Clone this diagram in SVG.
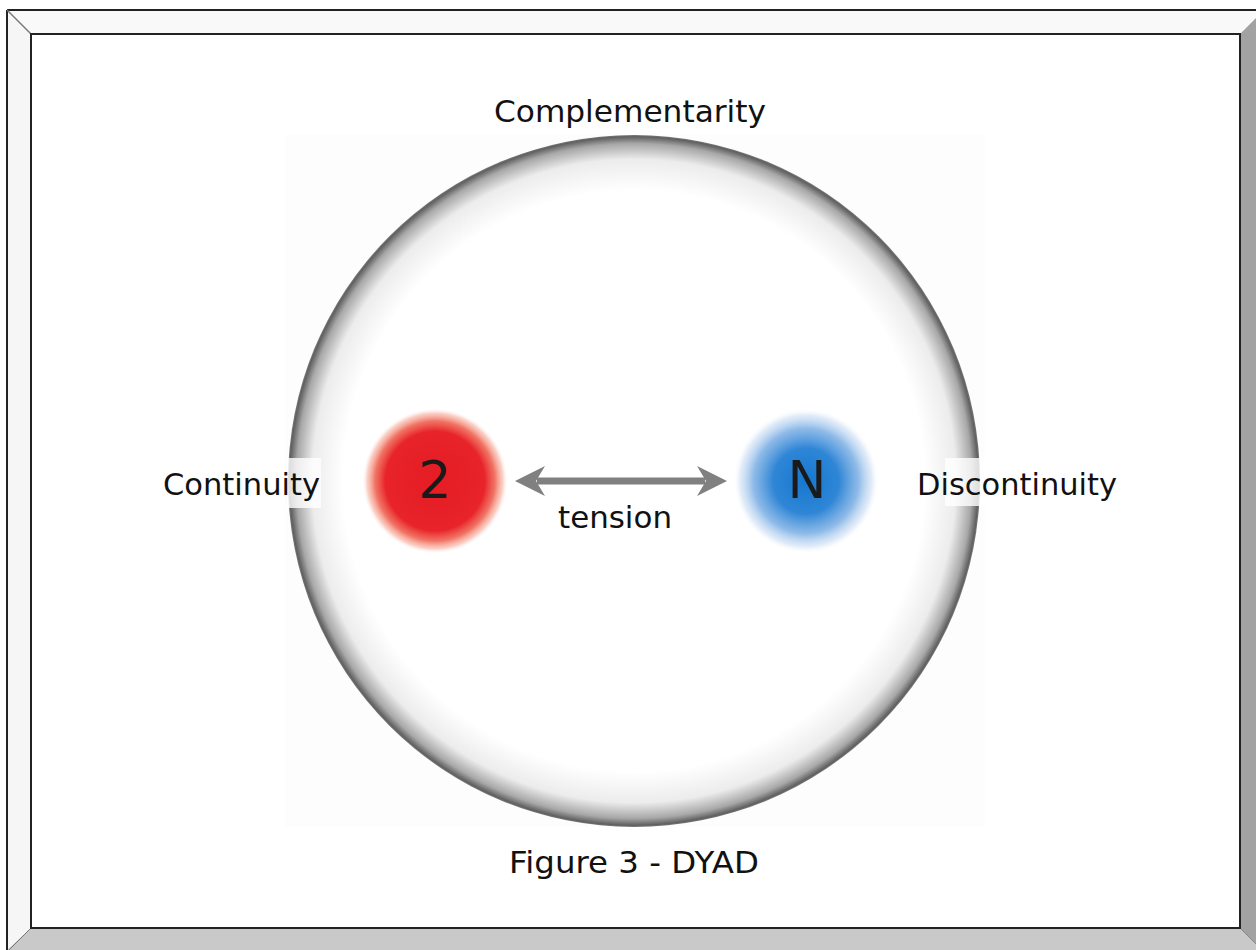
<svg xmlns="http://www.w3.org/2000/svg" width="1256" height="950" viewBox="0 0 1256 950">
<style>
.lbl{font-family:"DejaVu Sans","Liberation Sans",sans-serif;fill:#111;}
.big{font-family:"DejaVu Sans","Liberation Sans",sans-serif;fill:#1a1a1a;font-size:52px;text-anchor:middle;}
</style>
<defs>
<radialGradient id="sphere" cx="634" cy="481" r="346" gradientUnits="userSpaceOnUse">
<stop offset="0" stop-color="#ffffff"/>
<stop offset="0.84" stop-color="#ffffff"/>
<stop offset="0.93" stop-color="#ececec"/>
<stop offset="0.975" stop-color="#a8a8a8"/>
<stop offset="0.995" stop-color="#606060"/>
<stop offset="1" stop-color="#7a7a7a"/>
</radialGradient>
<radialGradient id="red">
<stop offset="0" stop-color="#e51c24"/>
<stop offset="0.68" stop-color="#e8232a"/>
<stop offset="0.82" stop-color="#ee5a48" stop-opacity="0.85"/>
<stop offset="0.93" stop-color="#f6a28e" stop-opacity="0.5"/>
<stop offset="1" stop-color="#ffffff" stop-opacity="0"/>
</radialGradient>
<radialGradient id="blue">
<stop offset="0" stop-color="#1677cf"/>
<stop offset="0.45" stop-color="#2f86d6"/>
<stop offset="0.72" stop-color="#7aaee4" stop-opacity="0.85"/>
<stop offset="0.9" stop-color="#c2d8f2" stop-opacity="0.5"/>
<stop offset="1" stop-color="#ffffff" stop-opacity="0"/>
</radialGradient>
<marker id="ah" viewBox="0 0 30 32" refX="8" refY="16" markerWidth="30" markerHeight="32" markerUnits="userSpaceOnUse" orient="auto-start-reverse">
<path d="M0,1 L30,16 L0,31 L9,16 Z" fill="#808080"/>
</marker>
</defs>

<g id="frame">
<rect x="0" y="0" width="1256" height="950" fill="#ffffff"/>
<polygon points="7,10 1256,10 1256,18 1240,34 31,34" fill="#f9f9f9"/>
<polygon points="7,10 31,34 31,928 7,950" fill="#f6f6f6"/>
<polygon points="1240,34 1256,18 1256,950 1240,928" fill="#a2a2a2"/>
<polygon points="31,928 1240,928 1256,944 1256,950 7,950" fill="#c9c9c9"/>
<line x1="7" y1="10" x2="1256" y2="10" stroke="#222" stroke-width="2"/>
<line x1="7" y1="10" x2="7" y2="950" stroke="#222" stroke-width="2"/>
<line x1="7" y1="10" x2="31" y2="34" stroke="#777" stroke-width="1.5"/>
<line x1="1240" y1="928" x2="1256" y2="944" stroke="#888" stroke-width="1"/>
<line x1="31" y1="928" x2="9" y2="950" stroke="#777" stroke-width="1"/>
<rect x="31" y="34" width="1209" height="894" fill="#ffffff" stroke="#222" stroke-width="2"/>
</g>

<g id="backdrop">
<rect x="285" y="135" width="700" height="692" fill="#fdfdfd"/>
</g>

<g id="sphere-node">
<circle cx="634" cy="481" r="346" fill="url(#sphere)"/>
<rect x="287" y="458" width="34" height="50" fill="#ffffff" opacity="0.8"/>
<rect x="945" y="458" width="40" height="48" fill="#ffffff" opacity="0.8"/>
</g>

<g id="connectors">
<line x1="537" y1="481" x2="705" y2="481" stroke="#808080" stroke-width="7" marker-start="url(#ah)" marker-end="url(#ah)"/>
</g>

<g id="node-2">
<circle cx="435" cy="481" r="73" fill="url(#red)"/>
<text class="big" x="435" y="498">2</text>
</g>

<g id="node-N">
<circle cx="806" cy="481" r="73" fill="url(#blue)"/>
<text class="big" x="807" y="498">N</text>
</g>

<g id="labels">
<text class="lbl" x="630" y="122" font-size="30" text-anchor="middle" textLength="272" lengthAdjust="spacingAndGlyphs">Complementarity</text>
<text class="lbl" x="163" y="495" font-size="30" textLength="157" lengthAdjust="spacingAndGlyphs">Continuity</text>
<text class="lbl" x="917" y="495" font-size="30" textLength="200" lengthAdjust="spacingAndGlyphs">Discontinuity</text>
<text class="lbl" x="558" y="528" font-size="30" textLength="114" lengthAdjust="spacingAndGlyphs">tension</text>
<text class="lbl" x="509" y="873" font-size="30" textLength="250" lengthAdjust="spacingAndGlyphs">Figure 3 - DYAD</text>
</g>
</svg>
